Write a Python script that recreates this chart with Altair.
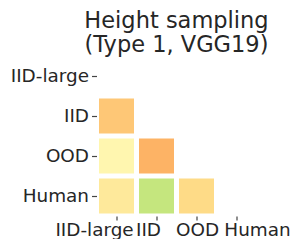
import altair as alt
import pandas as pd

categories = ["IID-large", "IID", "OOD", "Human"]
row_cat = ["IID", "OOD", "OOD", "Human", "Human", "Human"]
col_cat = ["IID-large", "IID-large", "IID", "IID-large", "IID", "OOD"]
values = [0.35, 0.47, 0.31, 0.43, 0.64, 0.39]

# RdYlGn colormap stops
cmap_stops = [0.0, 0.1, 0.2, 0.3, 0.4, 0.5, 0.6, 0.7, 0.8, 0.9, 1.0]
cmap_colors = ["#a50026", "#d73027", "#f46d43", "#fdae61", "#fee08b", "#ffffbf",
               "#d9ef8b", "#a6d96a", "#66bd63", "#1a9850", "#006837"]

df = pd.DataFrame({"row": row_cat, "col": col_cat, "value": values})

label_color = "#262626"
font = "DejaVu Sans"
fs = 18.4

x_offset = {
    "condition": [
        {"test": "datum.value == 'IID-large'", "value": -22},
        {"test": "datum.value == 'IID'", "value": -8},
        {"test": "datum.value == 'OOD'", "value": 1},
        {"test": "datum.value == 'Human'", "value": 21},
    ],
    "value": 0,
}

chart = alt.Chart(df).mark_rect().encode(
    x=alt.X("col:N", sort=categories,
            scale=alt.Scale(domain=categories, paddingInner=0.125, paddingOuter=0.0625),
            axis=alt.Axis(title=None, domain=False, tickSize=4, tickWidth=1.2,
                          tickColor="#444", labelPadding=0, labelAngle=0,
                          labelFontSize=fs, labelFont=font, labelColor=label_color,
                          labelOffset=x_offset, labelOverlap=False)),
    y=alt.Y("row:N", sort=categories,
            scale=alt.Scale(domain=categories, paddingInner=0.125, paddingOuter=0.0625),
            axis=alt.Axis(title=None, domain=False, tickSize=5, tickWidth=1.2,
                          tickColor="#444", labelPadding=3,
                          labelFontSize=fs, labelFont=font, labelColor=label_color)),
    color=alt.Color("value:Q",
                    scale=alt.Scale(domain=cmap_stops, range=cmap_colors, interpolate="rgb"),
                    legend=None),
).properties(
    width=160,
    height=160,
    title=alt.TitleParams(["Height sampling", "(Type 1, VGG19)"], fontSize=22.5,
                          font=font, fontWeight="normal", color=label_color,
                          lineHeight=23.5, offset=0),
    padding={"left": 1.5, "top": 2, "right": 0, "bottom": 0},
).configure_view(stroke=None)

chart.save("out.html", embed_options={"renderer": "svg", "actions": False})
